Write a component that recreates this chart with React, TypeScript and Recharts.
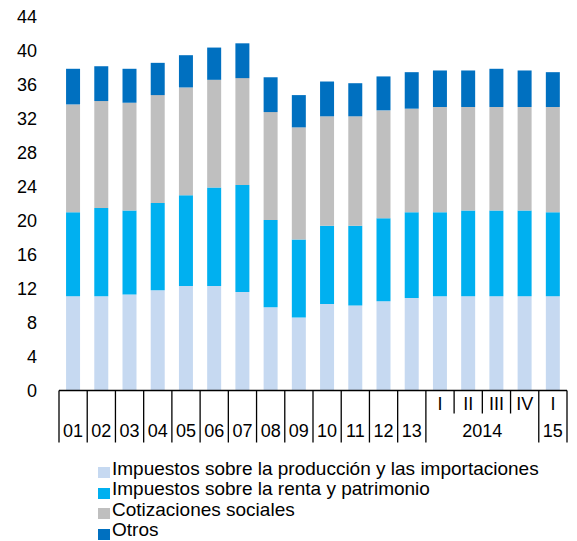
import React from "react";
import { BarChart, Bar, XAxis, YAxis, Legend } from "recharts";

const periods = ["2001","2002","2003","2004","2005","2006","2007","2008","2009","2010","2011","2012","2013","2014-I","2014-II","2014-III","2014-IV","2015-I"];
const topLabels = ["","","","","","","","","","","","","","I","II","III","IV","I"];
const bottomLabels = ["01","02","03","04","05","06","07","08","09","10","11","12","13","","","","","15"];
const groupLabels = [{ label: "2014", from: 13, to: 16 }];

const produccion = [11.1, 11.1, 11.3, 11.8, 12.3, 12.3, 11.6, 9.8, 8.6, 10.2, 10.0, 10.5, 10.9, 11.1, 11.1, 11.1, 11.1, 11.1];
const renta = [9.9, 10.4, 9.9, 10.3, 10.7, 11.6, 12.6, 10.3, 9.2, 9.2, 9.4, 9.8, 10.1, 9.9, 10.1, 10.1, 10.1, 9.9];
const cotizaciones = [12.7, 12.6, 12.7, 12.7, 12.7, 12.7, 12.6, 12.7, 13.2, 12.9, 12.9, 12.7, 12.2, 12.4, 12.2, 12.2, 12.2, 12.4];
const otros = [4.2, 4.1, 4.0, 3.8, 3.8, 3.8, 4.1, 4.1, 3.8, 4.1, 3.9, 4.0, 4.3, 4.3, 4.3, 4.5, 4.3, 4.1];

const yTicks = [0, 4, 8, 12, 16, 20, 24, 28, 32, 36, 40, 44];

const series = [
  { key: "produccion", name: "Impuestos sobre la producción y las importaciones", color: "#C6D9F1" },
  { key: "renta", name: "Impuestos sobre la renta y patrimonio", color: "#00B0F0" },
  { key: "cotizaciones", name: "Cotizaciones sociales", color: "#BFBFBF" },
  { key: "otros", name: "Otros", color: "#0070C0" },
];

const data = periods.map((p, i) => ({
  period: p,
  produccion: produccion[i],
  renta: renta[i],
  cotizaciones: cotizaciones[i],
  otros: otros[i],
}));

const WIDTH = 577;
const HEIGHT = 541;
const MARGIN = { top: 17, right: 10, bottom: 0, left: 0 };
const Y_AXIS_WIDTH = 59;
const PLOT_W = WIDTH - MARGIN.left - MARGIN.right - Y_AXIS_WIDTH;
const STEP = PLOT_W / periods.length;
const FONT = "'Liberation Sans', Arial, sans-serif";
const ROW_H = 20.5;

const inGroupInterior = (i: number) =>
  groupLabels.some((g) => i > g.from && i <= g.to);

const XTick = (props: any) => {
  const { x, y, payload } = props;
  const i: number = payload?.index ?? props.index ?? 0;
  const left = x - STEP / 2;
  const right = x + STEP / 2;
  const longLen = 52;
  const shortLen = 23;
  const elems: any[] = [];
  elems.push(
    <line key="l" x1={left} x2={left} y1={y} y2={y + (inGroupInterior(i) ? shortLen : longLen)} stroke="#000" strokeWidth={1.3} />
  );
  if (i === periods.length - 1) {
    elems.push(<line key="r" x1={right} x2={right} y1={y} y2={y + longLen} stroke="#000" strokeWidth={1.3} />);
  }
  if (topLabels[i]) {
    elems.push(
      <text key="t" x={x} y={y + 13} textAnchor="middle" dominantBaseline="central" fontSize={18} fontFamily={FONT} fill="#000">
        {topLabels[i]}
      </text>
    );
  }
  if (bottomLabels[i]) {
    elems.push(
      <text key="b" x={x} y={y + 40} textAnchor="middle" dominantBaseline="central" fontSize={18} fontFamily={FONT} fill="#000">
        {bottomLabels[i]}
      </text>
    );
  }
  groupLabels.forEach((g) => {
    if (i === g.from) {
      const cx = x + ((g.to - g.from) * STEP) / 2;
      elems.push(
        <text key={"g" + g.label} x={cx} y={y + 40} textAnchor="middle" dominantBaseline="central" fontSize={18} fontFamily={FONT} fill="#000">
          {g.label}
        </text>
      );
    }
  });
  return <g>{elems}</g>;
};

const LegendContent = () => (
  <div style={{ height: ROW_H * 4 + 0.5, paddingLeft: 98, fontFamily: FONT, fontSize: 19, lineHeight: ROW_H + "px", color: "#000", boxSizing: "border-box" }}>
    {series.map((s) => (
      <div key={s.key} style={{ position: "relative", height: ROW_H, whiteSpace: "nowrap", paddingLeft: 14 }}>
        <span style={{ position: "absolute", left: 0, top: 8.5, width: 12, height: 11, background: s.color }} />
        <span>{s.name}</span>
      </div>
    ))}
  </div>
);

export default function App() {
  return (
    <div style={{ position: "absolute", left: 0, top: 0, width: WIDTH, height: HEIGHT, background: "#fff" }}>
      <BarChart width={WIDTH} height={HEIGHT} data={data} margin={MARGIN} barCategoryGap="25%">
        <YAxis
          width={Y_AXIS_WIDTH}
          domain={[0, 44]}
          ticks={yTicks}
          interval={0}
          axisLine={false}
          tickLine={false}
          tickSize={0}
          tickMargin={22}
          tick={{ fontSize: 18, fontFamily: FONT, fill: "#000" }}
        />
        <XAxis
          dataKey="period"
          height={68}
          interval={0}
          tickLine={false}
          tickSize={0}
          tickMargin={0}
          axisLine={{ stroke: "#000", strokeWidth: 1.3 }}
          tick={<XTick />}
        />
        <Legend verticalAlign="bottom" align="left" layout="horizontal" content={<LegendContent />} wrapperStyle={{ left: 0, width: WIDTH }} />
        {series.map((s) => (
          <Bar key={s.key} dataKey={s.key} name={s.name} stackId="a" fill={s.color} isAnimationActive={false} />
        ))}
      </BarChart>
    </div>
  );
}
